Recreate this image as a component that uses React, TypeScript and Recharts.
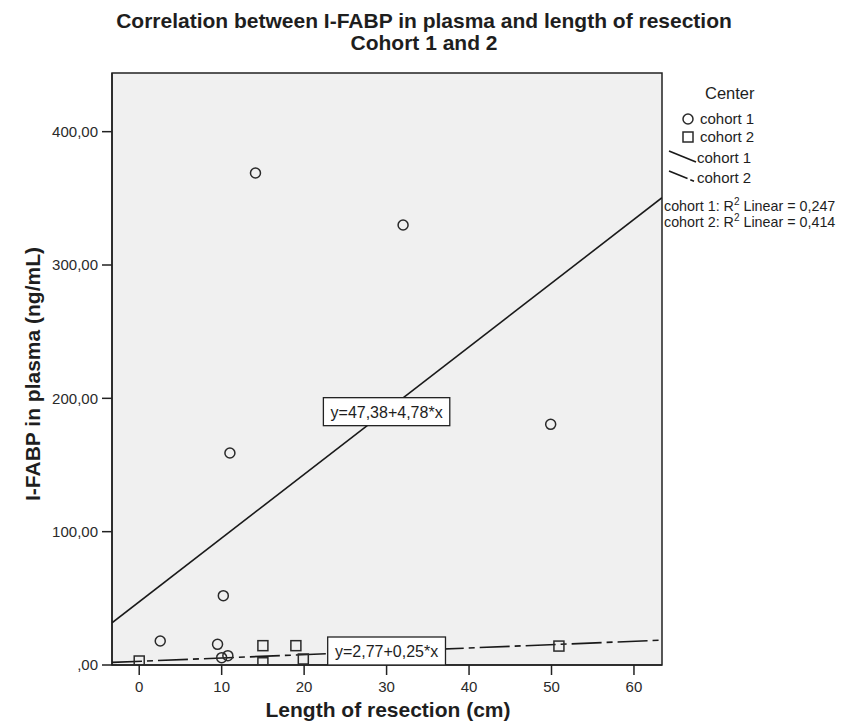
import React from 'react';
import { ScatterChart, Scatter, XAxis, YAxis, CartesianGrid, ReferenceArea } from 'recharts';

// ---- data ----
const cohort1X = [14.1, 32.0, 11.0, 49.9, 10.2, 2.55, 9.5, 10.0, 10.75];
const cohort1Y = [369, 330, 159, 180.5, 52, 18, 15.5, 5.5, 7];
const cohort2X = [0, 15, 15, 19, 19.9, 50.9];
const cohort2Y = [3, 14.5, 1.7, 14.5, 4.5, 14.2];
const fit1 = { intercept: 47.38, slope: 4.78, label: 'y=47,38+4,78*x', lx: 30.0, ly: 190 };
const fit2 = { intercept: 2.77, slope: 0.25, label: 'y=2,77+0,25*x', lx: 30.0, ly: 10.5 };
const xTicks = [0, 10, 20, 30, 40, 50, 60];
const yTicks = [0, 100, 200, 300, 400];
const xDomain: [number, number] = [-3.3, 63.4];
const yDomain: [number, number] = [0, 444];
const r2 = [
  { name: 'cohort 1', value: '0,247' },
  { name: 'cohort 2', value: '0,414' },
];

const FONT = 'Liberation Sans, Arial, sans-serif';
const INK = '#1e1e1e';

const c1 = cohort1X.map((x, i) => ({ x, y: cohort1Y[i] }));
const c2 = cohort2X.map((x, i) => ({ x, y: cohort2Y[i] }));
const line1 = xDomain.map((x) => ({ x, y: fit1.intercept + fit1.slope * x }));
const line2 = xDomain.map((x) => ({ x, y: fit2.intercept + fit2.slope * x }));
const labels = [fit1, fit2].map((f) => ({ x: f.lx, y: f.ly, text: f.label }));

const Circle = (p: any) => (
  <circle cx={p.cx} cy={p.cy} r={5} fill="none" stroke="#2a2a2a" strokeWidth={1.5} />
);
const Square = (p: any) => (
  <rect x={p.cx - 5} y={p.cy - 5} width={10} height={10} fill="none" stroke="#2a2a2a" strokeWidth={1.5} />
);
const Nothing = () => <g />;
const LabelBox = (p: any) => {
  const text: string = p.payload?.text ?? '';
  const w = text.length * 8.6 + 6;
  const h = 28;
  return (
    <g>
      <rect x={p.cx - w / 2} y={p.cy - h / 2} width={w} height={h} fill="#fff" stroke="#222" strokeWidth={1.3} />
      <text x={p.cx} y={p.cy + 6} textAnchor="middle" fontSize={16} fontFamily={FONT} fill={INK}>
        {text}
      </text>
    </g>
  );
};

const fmtY = (v: number) => (v === 0 ? ',00' : `${v},00`);

export default function App() {
  return (
    <div style={{ position: 'relative', width: 840, height: 715 }}>
      <ScatterChart width={840} height={715} margin={{ top: 65, right: 186, bottom: 28, left: 44 }}>
        <CartesianGrid fill="#f0f0f0" horizontal={false} vertical={false} />
        <XAxis
          type="number"
          dataKey="x"
          domain={xDomain}
          ticks={xTicks}
          allowDataOverflow
          height={30}
          tickSize={10}
          tickMargin={6}
          tick={{ fontSize: 15, fill: '#2a2a2a', fontFamily: FONT }}
          axisLine={{ stroke: '#222', strokeWidth: 1.5 }}
          tickLine={{ stroke: '#222', strokeWidth: 1.5 }}
        />
        <YAxis
          type="number"
          dataKey="y"
          domain={yDomain}
          ticks={yTicks}
          allowDataOverflow
          width={60}
          tickSize={10}
          tickMargin={4}
          tickFormatter={fmtY}
          tick={{ fontSize: 15, fill: '#2a2a2a', fontFamily: FONT }}
          axisLine={{ stroke: '#222', strokeWidth: 1.5 }}
          tickLine={{ stroke: '#222', strokeWidth: 1.5 }}
        />
        <ReferenceArea x1={xDomain[0]} x2={xDomain[1]} y1={yDomain[0]} y2={yDomain[1]} fill="none" stroke="#222" strokeWidth={1.5} />
        <Scatter data={line1} shape={Nothing} line={{ stroke: '#1a1a1a', strokeWidth: 1.6 }} isAnimationActive={false} />
        <Scatter data={line2} shape={Nothing} line={{ stroke: '#1a1a1a', strokeWidth: 1.6, strokeDasharray: '30 5 6 5' }} isAnimationActive={false} />
        <Scatter data={c1} shape={Circle} isAnimationActive={false} />
        <Scatter data={c2} shape={Square} isAnimationActive={false} />
        <Scatter data={labels} shape={LabelBox} isAnimationActive={false} />
      </ScatterChart>
      <svg width={840} height={715} style={{ position: 'absolute', left: 0, top: 0, pointerEvents: 'none' }}>
        <g fontFamily={FONT} fill={INK}>
          <text x={416} y={20} textAnchor="middle" fontSize={21} fontWeight="bold">
            Correlation between I-FABP in plasma and length of resection
          </text>
          <text x={416} y={42} textAnchor="middle" fontSize={21} fontWeight="bold">
            Cohort 1 and 2
          </text>
          <text x={380} y={709} textAnchor="middle" fontSize={21} fontWeight="bold">
            Length of resection (cm)
          </text>
          <text transform="translate(25,366) rotate(-90)" textAnchor="middle" fontSize={21} fontWeight="bold" dy={7}>
            I-FABP in plasma (ng/mL)
          </text>
          {/* legend */}
          <text x={697} y={91} fontSize={16.5}>Center</text>
          <circle cx={680} cy={111} r={5} fill="none" stroke="#2a2a2a" strokeWidth={1.5} />
          <text x={692} y={116} fontSize={15}>{r2[0].name}</text>
          <rect x={675} y={124} width={10} height={10} fill="none" stroke="#2a2a2a" strokeWidth={1.5} />
          <text x={692} y={134} fontSize={15}>{r2[1].name}</text>
          <line x1={661} y1={143} x2={688} y2={154} stroke="#1a1a1a" strokeWidth={1.6} />
          <text x={689} y={155} fontSize={15}>{r2[0].name}</text>
          <line x1={661} y1={163} x2={688} y2={174} stroke="#1a1a1a" strokeWidth={1.6} strokeDasharray="20 3 4 3" />
          <text x={689} y={175} fontSize={15}>{r2[1].name}</text>
          {r2.map((d, i) => (
            <text key={d.name} x={656} y={203 + i * 16} fontSize={14.3}>
              {d.name}: R<tspan fontSize={10} dy={-6}>2</tspan>
              <tspan dy={6}> Linear = {d.value}</tspan>
            </text>
          ))}
        </g>
      </svg>
    </div>
  );
}
